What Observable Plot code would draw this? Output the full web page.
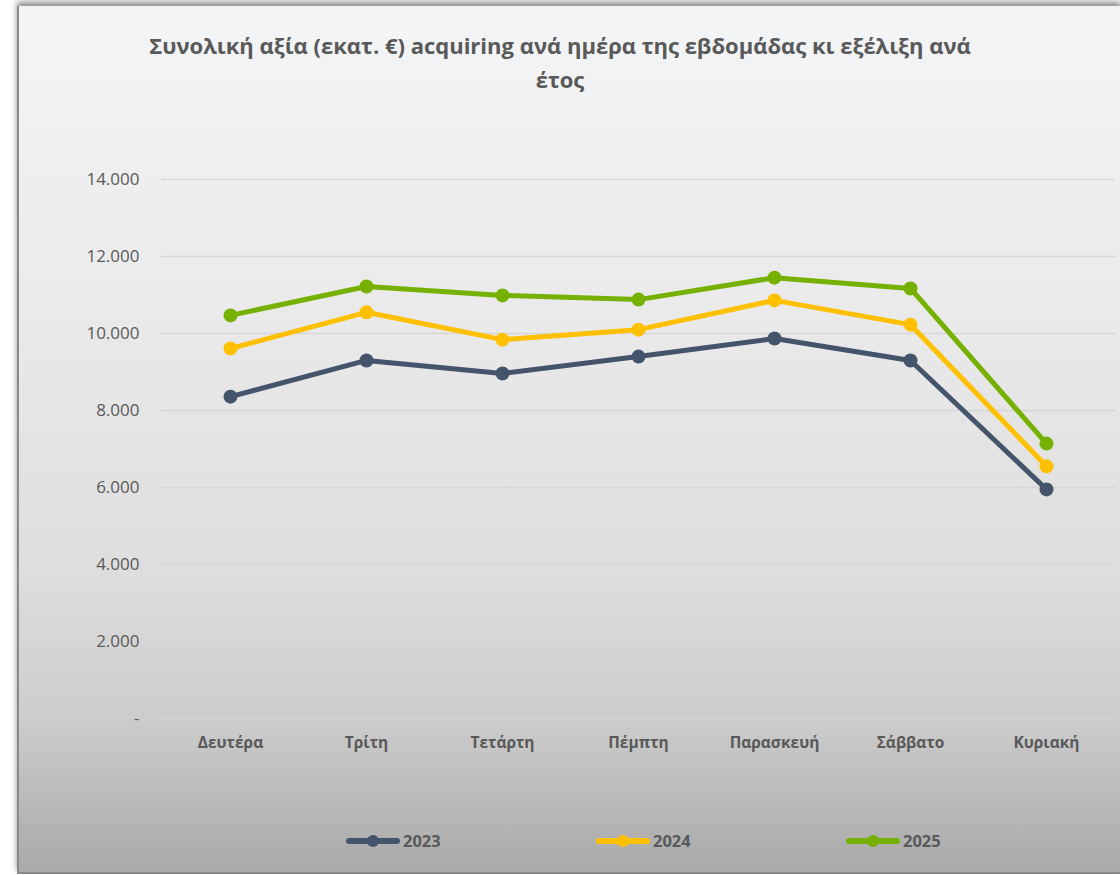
<!DOCTYPE html>
<html>
<head>
<meta charset="utf-8">
<script src="https://cdn.jsdelivr.net/npm/d3@7"></script>
<script src="https://cdn.jsdelivr.net/npm/@observablehq/plot@0.6"></script>
<style>
  html, body { margin: 0; padding: 0; background: #ffffff; }
  #page { position: relative; width: 1120px; height: 875px; overflow: hidden; background: #fff; }
  #frame {
    position: absolute; left: 17px; top: 6px; width: 1101px; height: 866px;
    border-left: 2px solid #8a8a8a; border-bottom: 2px solid #8a8a8a; border-right: 1px solid #b0b0b0;
    background: linear-gradient(to bottom, #f4f5f6 0%, #eaeaeb 35%, #dedede 65%, #cdcdcd 82%, #a9a9a9 100%);
    box-shadow: 0 -4px 6px rgba(0,0,0,0.45);
  }
  #title {
    position: absolute; left: 60px; top: 28px; width: 1000px; text-align: center;
    font-family: "Open Sans", sans-serif; font-weight: bold; font-size: 22px; line-height: 34px;
    color: #595959; white-space: nowrap;
  }
  #chart { position: absolute; left: 0; top: 0; }
  #legend { position: absolute; top: 829px; left: 0; width: 1120px; height: 22px; }
  .item { position: absolute; display: flex; align-items: center; font-family: "Open Sans", sans-serif; font-weight: bold; font-size: 16.5px; color: #595959; }
  .item svg { margin-right: 3px; }
</style>
</head>
<body>
<div id="page">
  <div id="frame"></div>
  <div id="title">Συνολική αξία (εκατ. €) acquiring ανά ημέρα της εβδομάδας κι εξέλιξη ανά<br>έτος</div>
  <div id="chart"></div>
  <div id="legend"></div>
</div>
<script>
const days = ["Δευτέρα", "Τρίτη", "Τετάρτη", "Πέμπτη", "Παρασκευή", "Σάββατο", "Κυριακή"];
const years = ["2023", "2024", "2025"];
const v2023 = [8360, 9300, 8960, 9400, 9870, 9300, 5950];
const v2024 = [9610, 10550, 9840, 10100, 10860, 10230, 6550];
const v2025 = [10470, 11220, 10990, 10880, 11450, 11170, 7140];
const yTicks = [0, 2000, 4000, 6000, 8000, 10000, 12000, 14000];
const colors = ["#44546a", "#ffc000", "#76b000"];

const series = [v2023, v2024, v2025];
const data = [];
years.forEach((y, i) => days.forEach((d, j) => data.push({year: y, day: d, value: series[i][j]})));

const fmt = v => v === 0 ? "-" : d3.format(",")(v).replace(/,/g, ".");

const chart = Plot.plot({
  width: 1120,
  height: 780,
  marginTop: 179,
  marginBottom: 62,
  marginLeft: 161,
  marginRight: 5,
  style: {background: "transparent", overflow: "visible"},
  x: {type: "point", domain: days, padding: 0.5, label: null},
  y: {domain: [0, 14000], label: null},
  color: {domain: years, range: colors},
  marks: [
    Plot.ruleY(yTicks, {stroke: "#d6d6d6", strokeWidth: 1.5}),
    Plot.axisY({ticks: yTicks, tickSize: 0, tickPadding: 22, tickFormat: fmt, fontSize: 17, fill: "#595959", fontFamily: "'Open Sans', sans-serif"}),
    Plot.axisX({tickSize: 0, tickPadding: 18, fontSize: 15.5, fontWeight: "bold", fill: "#595959", fontFamily: "'Open Sans', sans-serif"}),
    Plot.line(data, {x: "day", y: "value", z: "year", stroke: "year", strokeWidth: 5, strokeLinejoin: "round", strokeLinecap: "round"}),
    Plot.dot(data, {x: "day", y: "value", fill: "year", r: 7, stroke: "none"})
  ]
});
document.getElementById("chart").appendChild(chart);

const legendX = [346, 596, 846];
const legend = document.getElementById("legend");
years.forEach((y, i) => {
  const div = document.createElement("div");
  div.className = "item";
  div.style.left = legendX[i] + "px";
  div.innerHTML = `<svg width="54" height="20"><line x1="3" y1="10" x2="51" y2="10" stroke="${colors[i]}" stroke-width="6" stroke-linecap="round"/><circle cx="27" cy="10" r="6" fill="${colors[i]}"/></svg><span>${y}</span>`;
  legend.appendChild(div);
});
</script>
</body>
</html>
